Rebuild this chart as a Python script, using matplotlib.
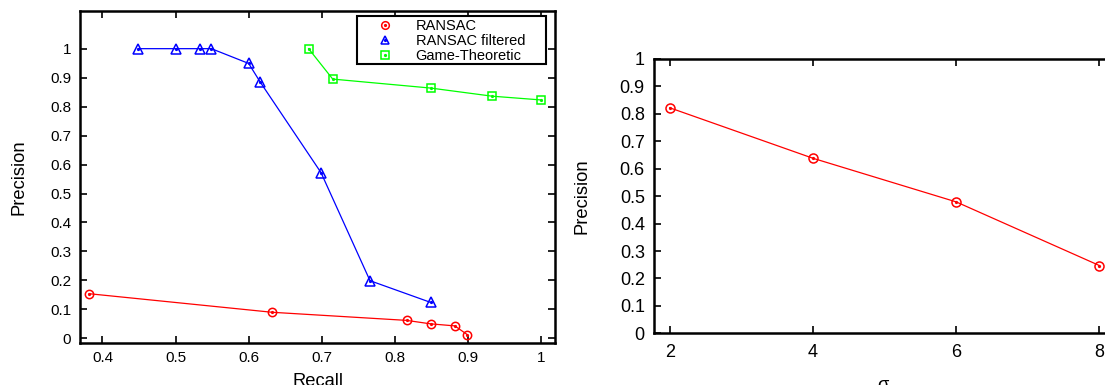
import matplotlib
matplotlib.use("Agg")
import matplotlib.pyplot as plt
from matplotlib.lines import Line2D
from matplotlib.patches import Rectangle
from matplotlib.legend_handler import HandlerTuple

plt.rcParams["font.family"] = ["Liberation Sans", "DejaVu Sans"]

# ---- precision / recall curves ----
ransac_recall = [0.382, 0.632, 0.816, 0.849, 0.882, 0.899]
ransac_prec = [0.154, 0.090, 0.062, 0.050, 0.043, 0.013]

filtered_recall = [0.449, 0.500, 0.533, 0.549, 0.600, 0.616, 0.699, 0.766, 0.849]
filtered_prec = [1.000, 1.000, 1.000, 1.000, 0.949, 0.884, 0.572, 0.199, 0.124]

game_recall = [0.682, 0.715, 0.849, 0.933, 1.000]
game_prec = [1.000, 0.895, 0.864, 0.836, 0.823]

# ---- precision vs sigma ----
sigma = [2, 4, 6, 8]
sigma_prec = [0.822, 0.638, 0.479, 0.247]

RED = "#ff0000"
BLUE = "#0000ff"
GREEN = "#00ff00"

fig = plt.figure(figsize=(11.05, 3.85), dpi=100)
ax1 = fig.add_axes([0.0720, 0.1099, 0.4299, 0.8615])
ax2 = fig.add_axes([0.5923, 0.1343, 0.4165, 0.7125])


def style_axes(ax, labelsize, xpad, ypad):
    for s in ax.spines.values():
        s.set_linewidth(1.8)
    ax.tick_params(direction="in", length=5, width=1.2, top=True, right=True,
                   labelsize=labelsize)
    ax.tick_params(axis="x", pad=xpad)
    ax.tick_params(axis="y", pad=ypad)


def series(ax, x, y, color, marker, ms):
    ax.plot(x, y, color=color, lw=0.9, marker=marker, ms=ms, mfc="none",
            mec=color, mew=1.1)
    ax.plot(x, y, ls="none", marker="o", ms=1.3, color=color)


series(ax1, ransac_recall, ransac_prec, RED, "o", 6)
series(ax1, filtered_recall, filtered_prec, BLUE, "^", 6.5)
series(ax1, game_recall, game_prec, GREEN, "s", 6.2)

ax1.set_xlim(0.3687, 1.0185)
ax1.set_ylim(-0.015, 1.13)
ax1.set_xticks([0.4, 0.5, 0.6, 0.7, 0.8, 0.9, 1.0])
ax1.set_xticklabels(["0.4", "0.5", "0.6", "0.7", "0.8", "0.9", "1"])
ax1.set_yticks([i / 10 for i in range(11)])
ax1.set_yticklabels(["0"] + [f"0.{i}" for i in range(1, 10)] + ["1"])
style_axes(ax1, 11, 6, 6)
ax1.set_xlabel("Recall", fontsize=13.2)
ax1.set_ylabel("Precision", fontsize=13.2)
ax1.xaxis.set_label_coords(0.502, -0.092)
ax1.yaxis.set_label_coords(-0.109, 0.50)


def handle(color, marker, ms):
    return (Line2D([], [], ls="none", marker=marker, ms=ms, mfc="none", mec=color, mew=1.1),
            Line2D([], [], ls="none", marker="o", ms=1.3, color=color))


# key box drawn separately so it can be wider than its entries
ax1.add_patch(Rectangle((0.5834, 0.8402), 0.9813 - 0.5834, 0.9858 - 0.8402,
                        transform=ax1.transAxes, facecolor="white",
                        edgecolor="black", lw=1.5, zorder=4))
leg = ax1.legend(
    [handle(RED, "o", 5.5), handle(BLUE, "^", 6), handle(GREEN, "s", 5.7)],
    ["RANSAC", "RANSAC filtered", "Game-Theoretic"],
    handler_map={tuple: HandlerTuple(ndivide=1, pad=0)},
    loc="upper left", bbox_to_anchor=(0.6122, 0.975), fontsize=10.5,
    frameon=False, borderpad=0.0, labelspacing=0.05, handlelength=2.0,
    handletextpad=1.1, borderaxespad=0.0,
)
leg.set_zorder(5)

ax2.plot(sigma, sigma_prec, color=RED, lw=0.9, marker="o", ms=6.5, mfc="none",
         mec=RED, mew=1.1)
ax2.plot(sigma, sigma_prec, ls="none", marker="o", ms=1.3, color=RED)
ax2.set_xlim(1.786, 8.214)
ax2.set_ylim(0, 1)
ax2.set_xticks(sigma)
ax2.set_yticks([i / 10 for i in range(11)])
ax2.set_yticklabels(["0"] + [f"0.{i}" for i in range(1, 10)] + ["1"])
style_axes(ax2, 13, 8, 7)
ax2.set_xlabel("σ", fontsize=13.2)
ax2.set_ylabel("Precision", fontsize=13.2)
ax2.xaxis.set_label_coords(0.4965, -0.16)
ax2.yaxis.set_label_coords(-0.140, 0.50)

fig.savefig("out.png", dpi=100)
